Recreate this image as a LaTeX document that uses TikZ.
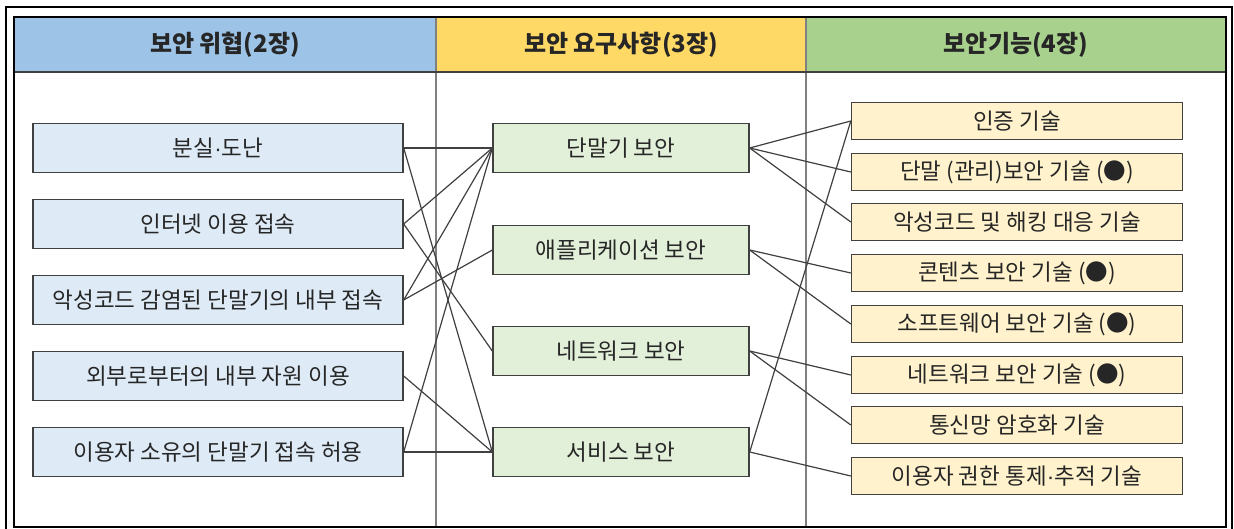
\documentclass[tikz,border=0pt]{standalone}
\usepackage{fontspec}
\setmainfont{Noto Sans CJK KR}
\newfontfamily\dotfont{Liberation Sans}
\newcommand{\mdot}{{\dotfont ·}}
\definecolor{hblue}{HTML}{9DC3E6}
\definecolor{hyellow}{HTML}{FFD966}
\definecolor{hgreen}{HTML}{A9D18E}
\definecolor{fblue}{HTML}{DEEBF7}
\definecolor{fgreen}{HTML}{E2F0D9}
\definecolor{fyellow}{HTML}{FFF2CC}
\definecolor{edge}{HTML}{404040}
\definecolor{grid}{HTML}{808080}
\tikzset{
  box/.style={draw=edge, line width=1.4pt, inner sep=0pt, font=\fontsize{22.5}{26}\selectfont, text=black!85},
  lbox/.style={box, fill=fblue, minimum width=370pt, minimum height=49pt},
  mbox/.style={box, fill=fgreen, minimum width=256pt, minimum height=49pt},
  rbox/.style={box, fill=fyellow, minimum width=331pt, minimum height=37pt},
  head/.style={font=\fontsize{24}{28}\selectfont\bfseries, text=black!85},
  link/.style={draw=edge, line width=1.2pt},
}
\begin{document}
\begin{tikzpicture}[x=1pt,y=-1pt]
\useasboundingbox (0,0) rectangle (1234,529);
\fill[white] (0,0) rectangle (1234,529);
% outer frame
\draw[black, line width=1.4pt] (6,7) rectangle (1232,535);
% header fills
\fill[hblue] (14,17) rectangle (436,72);
\fill[hyellow] (436,17) rectangle (806,72);
\fill[hgreen] (806,17) rectangle (1226,72);
% table lines
\draw[grid, line width=1.2pt] (436,17) -- (436,527) (806,17) -- (806,527);
\draw[edge, line width=1.2pt] (14,72) -- (1226,72);
\draw[black, line width=1.4pt] (14,17) rectangle (1226,527);
% headers
\node[head] (h1) at (225,45) {보안 위협(2장)};
\node[head] (h2) at (621,45) {보안 요구사항(3장)};
\node[head] (h3) at (1016,45) {보안기능(4장)};
% left boxes
\node[lbox] (l1) at (218,148) {분실\mdot 도난};
\node[lbox] (l2) at (218,224) {인터넷 이용 접속};
\node[lbox] (l3) at (218,300) {악성코드 감염된 단말기의 내부 접속};
\node[lbox] (l4) at (218,376) {외부로부터의 내부 자원 이용};
\node[lbox] (l5) at (218,452) {이용자 소유의 단말기 접속 허용};
% middle boxes
\node[mbox] (m1) at (621,148) {단말기 보안};
\node[mbox] (m2) at (621,250) {애플리케이션 보안};
\node[mbox] (m3) at (621,351) {네트워크 보안};
\node[mbox] (m4) at (621,452) {서비스 보안};
% right boxes
\node[rbox] (r1) at (1017,121) {인증 기술};
\node[rbox] (r2) at (1017,172) {단말 (관리)보안 기술 (●)};
\node[rbox] (r3) at (1017,222) {악성코드 및 해킹 대응 기술};
\node[rbox] (r4) at (1017,273) {콘텐츠 보안 기술 (●)};
\node[rbox] (r5) at (1017,324) {소프트웨어 보안 기술 (●)};
\node[rbox] (r6) at (1017,375) {네트워크 보안 기술 (●)};
\node[rbox] (r7) at (1017,425) {통신망 암호화 기술};
\node[rbox] (r8) at (1017,476) {이용자 권한 통제\mdot 추적 기술};
% left -> middle
\draw[link] (l1.east) -- (m1.west);
\draw[link] (l1.east) -- (m4.west);
\draw[link] (l2.east) -- (m1.west);
\draw[link] (l2.east) -- (m3.west);
\draw[link] (l3.east) -- (m1.west);
\draw[link] (l3.east) -- (m2.west);
\draw[link] (l4.east) -- (m4.west);
\draw[link] (l5.east) -- (m1.west);
\draw[link] (l5.east) -- (m4.west);
% middle -> right
\draw[link] (m1.east) -- (r1.west);
\draw[link] (m1.east) -- (r2.west);
\draw[link] (m1.east) -- (r3.west);
\draw[link] (m2.east) -- (r4.west);
\draw[link] (m2.east) -- (r5.west);
\draw[link] (m3.east) -- (r6.west);
\draw[link] (m3.east) -- (r7.west);
\draw[link] (m4.east) -- (r1.west);
\draw[link] (m4.east) -- (r8.west);
\end{tikzpicture}
\end{document}
